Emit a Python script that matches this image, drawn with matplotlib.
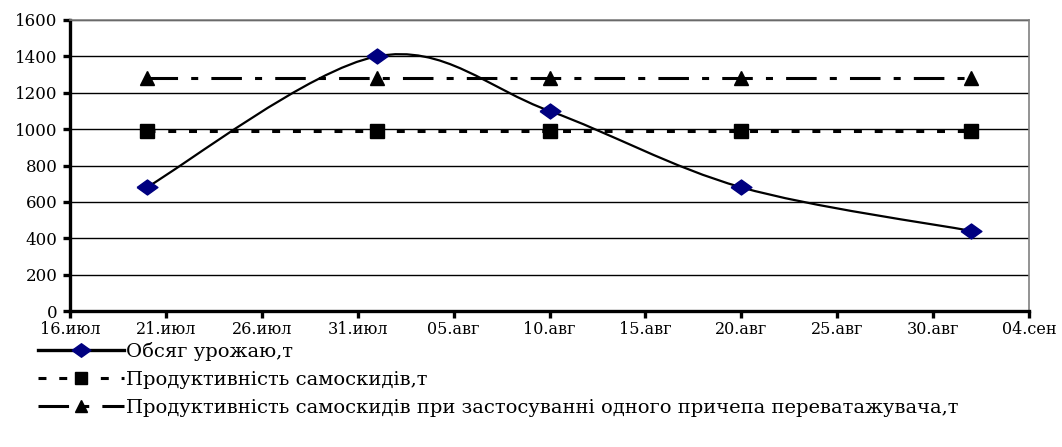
import datetime as dt
import matplotlib
matplotlib.use("Agg")
import matplotlib.pyplot as plt
import matplotlib.dates as mdates
from matplotlib.path import Path
from matplotlib.patches import PathPatch
from matplotlib.lines import Line2D

plt.rcParams['font.family'] = ['DejaVu Serif']

# data
dates = [dt.date(2008, 7, 20), dt.date(2008, 8, 1), dt.date(2008, 8, 10),
         dt.date(2008, 8, 20), dt.date(2008, 9, 1)]
harvest = [680, 1400, 1100, 680, 440]
trucks = [990, 990, 990, 990, 990]
trucks_trailer = [1280, 1280, 1280, 1280, 1280]

tick_dates = [dt.date(2008, 7, 16), dt.date(2008, 7, 21), dt.date(2008, 7, 26),
              dt.date(2008, 7, 31), dt.date(2008, 8, 5), dt.date(2008, 8, 10),
              dt.date(2008, 8, 15), dt.date(2008, 8, 20), dt.date(2008, 8, 25),
              dt.date(2008, 8, 30), dt.date(2008, 9, 4)]
tick_labels = ['16.июл', '21.июл', '26.июл', '31.июл', '05.авг', '10.авг',
               '15.авг', '20.авг', '25.авг', '30.авг', '04.сен']

labels = ['Обсяг урожаю,т',
          'Продуктивність самоскидів,т',
          'Продуктивність самоскидів при застосуванні одного причепа переватажувача,т']

x = mdates.date2num(dates)
xt = mdates.date2num(tick_dates)

fig = plt.figure(figsize=(10.62, 4.47), dpi=100)
ax = fig.add_axes([70/1062, 1-311/447, 959/1062, 291/447])

# smoothed line (catmull-rom style bezier, like excel "smoothed line")
pts = list(zip(x, harvest))
verts = [pts[0]]
codes = [Path.MOVETO]
n = len(pts)
for i in range(n - 1):
    p0 = pts[i - 1] if i > 0 else pts[i]
    p1 = pts[i]
    p2 = pts[i + 1]
    p3 = pts[i + 2] if i + 2 < n else pts[i + 1]
    c1 = (p1[0] + (p2[0] - p0[0]) / 6, p1[1] + (p2[1] - p0[1]) / 6)
    c2 = (p2[0] - (p3[0] - p1[0]) / 6, p2[1] - (p3[1] - p1[1]) / 6)
    verts += [c1, c2, p2]
    codes += [Path.CURVE4] * 3
ax.add_patch(PathPatch(Path(verts, codes), fill=False, ec='black', lw=1.6, zorder=3))

diamond = [(-1, 0), (0, 0.72), (1, 0), (0, -0.72), (-1, 0)]
ax.plot(x, harvest, ls='none', marker=diamond, ms=15, mfc='#000080', mec='#000080', zorder=4)

l2, = ax.plot(x, trucks, color='black', lw=2.2, dashes=(2.6, 4.2),
              marker='s', ms=9.5, zorder=3)
l3, = ax.plot(x, trucks_trailer, color='black', lw=2.2, dashes=(10, 4.3, 2.3, 4.3),
              marker='^', ms=9.5, zorder=3)

ax.set_xlim(xt[0], xt[-1])
ax.set_ylim(0, 1600)
ax.set_yticks(range(0, 1601, 200))
ax.set_xticks(xt)
ax.set_xticklabels(tick_labels)
ax.yaxis.grid(True, color='black', lw=1)
ax.set_axisbelow(True)

for s in ['left', 'bottom']:
    ax.spines[s].set_linewidth(2.4)
    ax.spines[s].set_color('black')
for s in ['top', 'right']:
    ax.spines[s].set_linewidth(1.2)
    ax.spines[s].set_color('#808080')
ax.tick_params(axis='both', direction='out', length=5, width=2.4, color='black')
ax.tick_params(axis='y', labelsize=12, pad=4)
ax.tick_params(axis='x', labelsize=11.5, pad=2)

h1 = Line2D([], [], color='black', lw=2.4, marker=diamond, ms=15,
            mfc='#000080', mec='#000080')
fig.legend([h1, l2, l3], labels, loc='upper left',
           bbox_to_anchor=(38/1062, 1-342/447), frameon=False,
           fontsize=14, handlelength=4.4, handletextpad=0.1,
           labelspacing=0.52, borderaxespad=0, borderpad=0, markerscale=0.9)

fig.savefig('out.png', dpi=100)
